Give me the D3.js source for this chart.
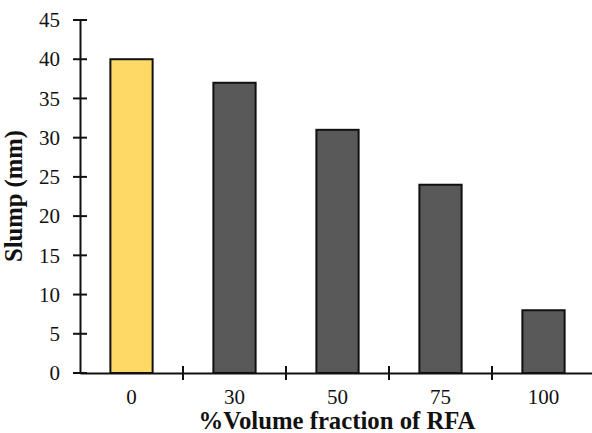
<!DOCTYPE html>
<html><head><meta charset="utf-8">
<script src="https://cdn.jsdelivr.net/npm/d3@7"></script>
<style>body{margin:0;background:#fff}svg{display:block}
svg text{font-family:"Liberation Serif","Times New Roman",Tinos,serif !important;}
</style>
</head><body>
<svg id="c" width="592" height="433"></svg>
<script>
const categories = ["0","30","50","75","100"];
const slump = [40, 37, 31, 24, 8];
const barColors = ["#FFD966","#595959","#595959","#595959","#595959"];
const yTicks = [0,5,10,15,20,25,30,35,40,45];
const xTitle = "%Volume fraction of RFA";
const yTitle = "Slump (mm)";

const svg = d3.select("#c");
const x = d3.scaleBand().domain(categories).range([80, 595]).paddingInner(0.59).paddingOuter(0.295);
const y = d3.scaleLinear().domain([0,45]).range([373, 20]);

svg.selectAll("rect.bar").data(slump).enter().append("rect")
  .attr("x",(d,i)=>x(categories[i]))
  .attr("y",d=>y(d))
  .attr("width",x.bandwidth())
  .attr("height",d=>y(0)-y(d))
  .attr("fill",(d,i)=>barColors[i])
  .attr("stroke","#111").attr("stroke-width",2);

// y axis
const ya = svg.append("g").attr("transform","translate(80,0)")
  .call(d3.axisLeft(y).tickValues(yTicks).tickSize(0).tickPadding(20));
ya.select(".domain").attr("stroke","#111").attr("stroke-width",2);
ya.selectAll("text").attr("font-size",21).attr("fill","#111");
svg.selectAll("line.yt").data(yTicks).enter().append("line")
  .attr("x1",73).attr("x2",87).attr("y1",d=>y(d)).attr("y2",d=>y(d))
  .attr("stroke","#111").attr("stroke-width",2);

// x axis
const xa = svg.append("g").attr("transform",`translate(0,${y(0)})`)
  .call(d3.axisBottom(x).tickSize(0).tickPadding(16));
xa.select(".domain").attr("stroke","#111").attr("stroke-width",2);
xa.selectAll("text").attr("font-size",21).attr("fill","#111");
const bounds = categories.map(c=>x(c)-x.step()*x.paddingInner()/2 + x.step());
svg.selectAll("line.xt").data(bounds).enter().append("line")
  .attr("x1",d=>d).attr("x2",d=>d).attr("y1",y(0)-7).attr("y2",y(0)+7)
  .attr("stroke","#111").attr("stroke-width",2);

function fit(sel, target){
  const w = sel.node().getComputedTextLength();
  const fs = +sel.attr("font-size");
  sel.attr("font-size", fs*target/w);
}
const xt = svg.append("text").attr("x",337).attr("y",429).attr("text-anchor","middle")
  .attr("font-size",24).attr("font-weight","bold").attr("fill","#111")
  .text(xTitle);
fit(xt, 277);
const yt = svg.append("text").attr("transform","translate(22,196) rotate(-90)").attr("text-anchor","middle")
  .attr("font-size",22).attr("font-weight","bold").attr("fill","#111")
  .text(yTitle);
fit(yt, 132);
</script>
</body></html>
